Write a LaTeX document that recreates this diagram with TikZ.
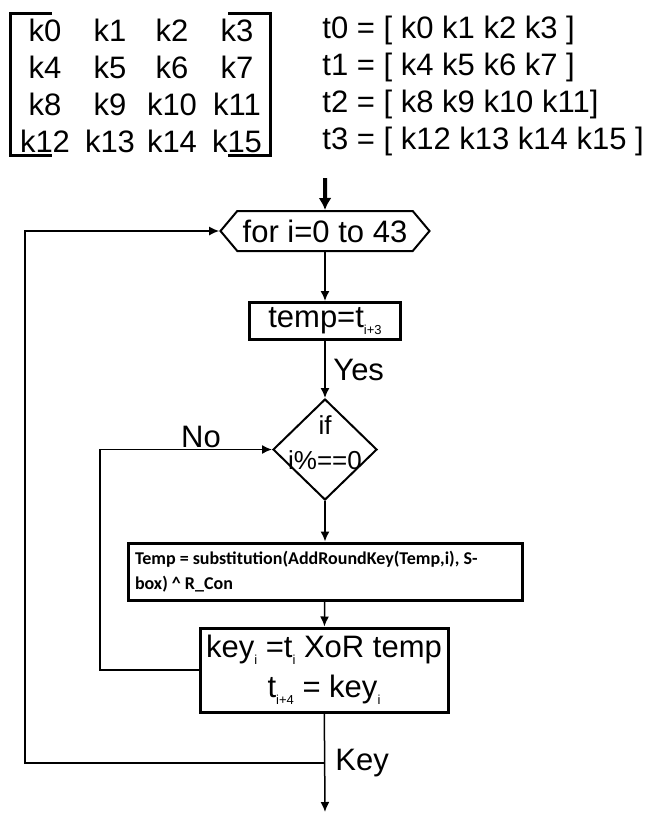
\documentclass[tikz,border=0pt]{standalone}
\usepackage{fontspec}
\setmainfont{Liberation Sans}
\newfontfamily\calibri{Carlito}
\usetikzlibrary{shapes.geometric,shapes.symbols,arrows.meta}
\newcommand{\pedice}[1]{\raisebox{-0.45ex}{\fontsize{6.5}{7}\selectfont #1}}

\begin{document}
\begin{tikzpicture}[x=0.5pt,y=-0.5pt,
    every node/.style={font=\fontsize{15.5}{17}\selectfont, inner sep=0pt},
    freccia/.style={-{Latex[length=5pt,width=4.5pt]}, line width=0.75pt},
    scatola/.style={draw, line width=1.5pt}]
\useasboundingbox (0,0) rectangle (649,815);

% Matrice delle chiavi
\foreach \r in {0,...,3}
  \foreach \c/\xc in {0/45,1/110,2/172,3/237}
  {
    \pgfmathtruncatemacro{\n}{4*\r+\c}
    \node (k\n) at (\xc,{30+37*\r}) {k\n};
  }
\draw[line width=1.5pt] (52,13) -- (10,13) -- (10,155) -- (52,155);
\draw[line width=1.5pt] (228,13) -- (270,13) -- (270,155) -- (228,155);

% Parole t0 ... t3
\node[anchor=west] (t0) at (322,30) {t0 = [ k0 k1 k2 k3 ]};
\node[anchor=west] (t1) at (322,67) {t1 = [ k4 k5 k6 k7 ]};
\node[anchor=west] (t2) at (322,104) {t2 = [ k8 k9 k10 k11]};
\node[anchor=west] (t3) at (322,141) {t3 = [ k12 k13 k14 k15 ]};

% Ciclo
\coordinate (inizio) at (325,178);
\node[signal, signal to=west and east, signal pointer angle=100, draw, line width=1pt,
      minimum width=104.5pt, minimum height=20pt] (ciclo) at (325,231) {for i=0 to 43};
\draw[-{Latex[length=6pt,width=6.5pt]}, line width=2pt] (inizio) -- (ciclo);

\node[scatola, minimum width=75.5pt, minimum height=18.5pt] (temp) at (325,321) {temp=t\pedice{i+3}};
\draw[freccia] (ciclo) -- (temp);
\node[anchor=west] (si) at (333,370) {Yes};

% Condizione
\node[diamond, draw, line width=1pt, minimum width=52pt, minimum height=50.5pt] (cond) at (325,449.5) {};
\node[align=center, font=\fontsize{13}{17.5}\selectfont] (condtesto) at (325,443) {if\\i\%==0};
\draw[freccia] (temp) -- (cond);
\node (no) at (201,437) {No};

% Sostituzione
\node[scatola, minimum width=197pt, minimum height=28.5pt, text width=190pt, align=flush left,
      font=\calibri\bfseries\fontsize{9}{12.5}\selectfont] (sost) at (325,571.5)
  {Temp = substitution(AddRoundKey(Temp,i), S-\\box) \^{} R\_Con};
\draw[freccia] (cond) -- (sost);

% Chiave
\node[scatola, minimum width=124pt, minimum height=42pt, align=center,
      font=\fontsize{15.5}{20}\selectfont] (chiave) at (324,670)
  {key\pedice{i} =t\pedice{i} XoR temp\\t\pedice{i+4} = key\pedice{i}};
\draw[freccia] (sost) -- (chiave);
\draw[freccia] (chiave.west) -- (100,670) |- (cond.west);

% Uscita e ritorno
\coordinate (fine) at (325,812);
\coordinate (giunzione) at (325,763);
\draw[freccia] (chiave) -- (fine);
\draw[freccia] (giunzione) -- (25,763) |- (ciclo.west);
\node[anchor=west] (key) at (335,763) {Key};
\end{tikzpicture}
\end{document}
